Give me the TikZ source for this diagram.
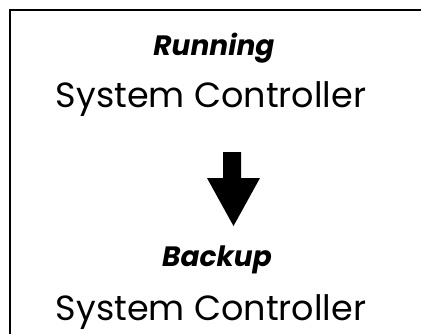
\documentclass[tikz,border=0pt]{standalone}
\usepackage{fontspec}
\setmainfont{Poppins}
\tikzset{
  rotulo/.style={anchor=base, inner sep=0pt, font=\fontsize{28}{28}\selectfont\bfseries\itshape},
  nome/.style={anchor=base, inner sep=0pt, font=\fontsize{35}{35}\selectfont}
}

\begin{document}
\begin{tikzpicture}[x=1pt, y=-1pt]

  \useasboundingbox (0,0) rectangle (421,333);

  %% ================================================================
  %%  MOLDURA
  %% ================================================================
  \draw[line width=2pt] (9.5,345) -- (9.5,10) -- (430,10);

  %% ================================================================
  %%  CONTROLADOR ATIVO
  %% ================================================================
  \node[rotulo] (running) at (214,55)  {Running};
  \node[nome]   (ativo)   at (211,107) {System Controller};

  %% ================================================================
  %%  SETA
  %% ================================================================
  \fill[black]
    (223,152) -- (241,152) -- (241,178) -- (260,178) --
    (233.5,226) --
    (207,178) -- (223,178) -- cycle;

  %% ================================================================
  %%  CONTROLADOR RESERVA
  %% ================================================================
  \node[rotulo] (backup)  at (217,266) {Backup};
  \node[nome]   (reserva) at (211,320) {System Controller};

\end{tikzpicture}
\end{document}
